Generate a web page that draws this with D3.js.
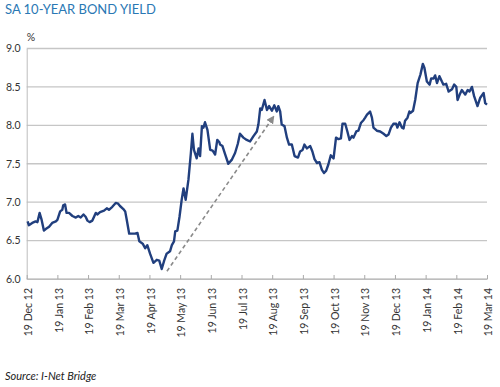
<!DOCTYPE html>
<html>
<head>
<meta charset="utf-8">
<script src="https://cdn.jsdelivr.net/npm/d3@7"></script>
<style>
  body { margin: 0; background: #fff; }
  text { font-family: Lato, "Open Sans", sans-serif; }
</style>
</head>
<body>
<div id="chart"></div>
<script>
// month labels on the category axis (one tick per month)
const tickLabels = ['19 Dec 12', '19 Jan 13', '19 Feb 13', '19 Mar 13', '19 Apr 13', '19 May 13',
  '19 Jun 13', '19 Jul 13', '19 Aug 13', '19 Sep 13', '19 Oct 13', '19 Nov 13',
  '19 Dec 13', '19 Jan 14', '19 Feb 14', '19 Mar 14'];
const yTicks = [6.0, 6.5, 7.0, 7.5, 8.0, 8.5, 9.0];

// position in months after 19 Dec 12
const months = [0.03, 0.07, 0.18, 0.29, 0.35, 0.42, 0.48, 0.56, 0.62, 0.73, 0.83, 0.95, 1.00, 1.09, 1.16, 1.19,
  1.25, 1.30, 1.38, 1.49, 1.60, 1.68, 1.76, 1.85, 1.92, 1.98, 2.05, 2.14, 2.25, 2.30, 2.39, 2.52,
  2.61, 2.68, 2.79, 2.90, 2.98, 3.04, 3.15, 3.21, 3.26, 3.34, 3.42, 3.53, 3.61, 3.67, 3.78, 3.86,
  3.93, 4.02, 4.13, 4.24, 4.32, 4.40, 4.48, 4.56, 4.67, 4.73, 4.80, 4.84, 4.91, 4.98, 5.05, 5.11,
  5.18, 5.27, 5.35, 5.40, 5.45, 5.54, 5.60, 5.65, 5.71, 5.76, 5.81, 5.89, 5.98, 6.06, 6.14, 6.21,
  6.28, 6.30, 6.38, 6.47, 6.57, 6.68, 6.79, 6.88, 6.95, 7.06, 7.17, 7.28, 7.39, 7.50, 7.55, 7.61,
  7.66, 7.75, 7.83, 7.90, 7.99, 8.07, 8.15, 8.20, 8.26, 8.31, 8.40, 8.48, 8.55, 8.64, 8.73, 8.84,
  8.91, 8.99, 9.05, 9.13, 9.24, 9.31, 9.38, 9.46, 9.54, 9.62, 9.69, 9.76, 9.83, 9.91, 10.00, 10.08,
  10.16, 10.24, 10.29, 10.38, 10.45, 10.52, 10.60, 10.65, 10.74, 10.81, 10.89, 10.98, 11.03, 11.09, 11.14, 11.19,
  11.25, 11.30, 11.41, 11.52, 11.63, 11.72, 11.79, 11.87, 11.95, 12.04, 12.08, 12.15, 12.23, 12.28, 12.33, 12.41,
  12.47, 12.50, 12.59, 12.66, 12.74, 12.83, 12.91, 12.96, 13.04, 13.13, 13.18, 13.26, 13.31, 13.37, 13.45, 13.53,
  13.58, 13.67, 13.75, 13.86, 13.93, 14.00, 14.04, 14.11, 14.18, 14.29, 14.37, 14.43, 14.51, 14.58, 14.69, 14.78,
  14.89, 14.94, 15.00];
// yield, %
const yields = [6.75, 6.70, 6.73, 6.75, 6.74, 6.86, 6.78, 6.63, 6.65, 6.68, 6.73, 6.75, 6.77, 6.88, 6.90, 6.96,
  6.97, 6.86, 6.86, 6.82, 6.80, 6.82, 6.80, 6.84, 6.81, 6.76, 6.74, 6.76, 6.86, 6.84, 6.87, 6.89,
  6.92, 6.90, 6.94, 6.99, 6.98, 6.95, 6.91, 6.88, 6.77, 6.59, 6.59, 6.59, 6.60, 6.49, 6.46, 6.40,
  6.44, 6.33, 6.21, 6.25, 6.24, 6.13, 6.24, 6.33, 6.36, 6.44, 6.49, 6.62, 6.63, 6.81, 7.03, 7.18,
  7.03, 7.29, 7.64, 7.89, 7.68, 7.57, 7.70, 7.60, 7.99, 7.97, 8.04, 7.94, 7.68, 7.67, 7.62, 7.81,
  7.78, 7.75, 7.73, 7.62, 7.50, 7.55, 7.64, 7.76, 7.89, 7.84, 7.81, 7.79, 7.86, 7.92, 8.01, 8.22,
  8.20, 8.33, 8.20, 8.25, 8.19, 8.26, 8.18, 8.25, 8.18, 8.01, 7.99, 7.84, 7.75, 7.75, 7.60, 7.58,
  7.66, 7.68, 7.75, 7.70, 7.73, 7.66, 7.56, 7.51, 7.52, 7.42, 7.38, 7.41, 7.49, 7.61, 7.57, 7.84,
  7.82, 7.83, 8.02, 8.02, 7.92, 7.81, 7.86, 7.84, 7.92, 7.93, 8.03, 8.07, 8.10, 8.14, 8.16, 8.18,
  8.10, 7.97, 7.93, 7.92, 7.89, 7.86, 7.88, 7.97, 8.02, 8.02, 7.97, 8.04, 7.97, 7.96, 8.06, 8.10,
  8.18, 8.16, 8.19, 8.33, 8.55, 8.66, 8.80, 8.75, 8.57, 8.53, 8.61, 8.61, 8.65, 8.55, 8.64, 8.57,
  8.53, 8.54, 8.44, 8.47, 8.53, 8.50, 8.33, 8.40, 8.46, 8.40, 8.46, 8.44, 8.50, 8.38, 8.25, 8.36,
  8.42, 8.29, 8.27];

// dashed trend arrow: [month, yield]
const arrowFrom = [4.57, 6.10];
const arrowTo = [8.04, 8.11];

const W = 500, H = 387;
const margin = { top: 48.5, right: 13, bottom: 108, left: 26.7 };

const svg = d3.select('#chart').append('svg')
  .attr('width', W)
  .attr('height', H);

const x = d3.scaleLinear().domain([0, tickLabels.length - 1]).range([margin.left, W - margin.right]);
const y = d3.scaleLinear().domain([6, 9]).range([H - margin.bottom, margin.top]);

// title
svg.append('text')
  .attr('x', 5).attr('y', 13.5)
  .style('font-size', '13px')
  .style('fill', '#2a78b4')
  .text('SA 10-YEAR BOND YIELD');

// gridlines
svg.append('g')
  .selectAll('line')
  .data(yTicks)
  .enter().append('line')
  .attr('x1', x(0)).attr('x2', x(15))
  .attr('y1', d => y(d)).attr('y2', d => y(d))
  .attr('stroke', '#c6c6c6')
  .attr('stroke-width', 1.3);

// y axis
const yAxis = svg.append('g')
  .attr('transform', `translate(${x(0)},0)`)
  .call(d3.axisLeft(y).tickValues(yTicks).tickFormat(d3.format('.1f')).tickSize(0).tickPadding(6));
yAxis.select('.domain').attr('stroke', '#bdbdbd');
yAxis.selectAll('text').style('font-size', '10.5px').style('fill', '#333')
  .style('font-family', 'Lato, sans-serif');

svg.append('text')
  .attr('x', x(0)).attr('y', 40.5)
  .style('font-size', '10.5px').style('fill', '#333')
  .text('%');

// x axis, ticks pointing into the plot
const xAxis = svg.append('g')
  .attr('transform', `translate(0,${y(6)})`)
  .call(d3.axisBottom(x).tickValues(d3.range(tickLabels.length))
    .tickFormat(i => tickLabels[i]).tickSizeInner(-4).tickSizeOuter(0).tickPadding(8));
xAxis.select('.domain').attr('stroke', '#bdbdbd');
xAxis.selectAll('.tick line').attr('stroke', '#aaa');
xAxis.selectAll('text')
  .style('font-size', '10.5px').style('fill', '#333')
  .style('font-family', 'Lato, sans-serif')
  .attr('text-anchor', 'end')
  .attr('dy', '0.35em')
  .attr('transform', 'rotate(-90)')
  .attr('x', -9).attr('y', 1);

// arrow
svg.append('defs').append('marker')
  .attr('id', 'head')
  .attr('viewBox', '0 0 10 10')
  .attr('refX', 8).attr('refY', 5)
  .attr('markerWidth', 5).attr('markerHeight', 5)
  .attr('orient', 'auto')
  .append('path')
  .attr('d', 'M0,0 L10,5 L0,10 z')
  .attr('fill', '#8a8a8a');

svg.append('line')
  .attr('x1', x(arrowFrom[0])).attr('y1', y(arrowFrom[1]))
  .attr('x2', x(arrowTo[0])).attr('y2', y(arrowTo[1]))
  .attr('stroke', '#8a8a8a')
  .attr('stroke-width', 1.6)
  .attr('stroke-dasharray', '4,3')
  .attr('marker-end', 'url(#head)');

// yield line
const line = d3.line()
  .x((d, i) => x(months[i]))
  .y(d => y(d));

svg.append('path')
  .datum(yields)
  .attr('d', line)
  .attr('fill', 'none')
  .attr('stroke', '#213f7e')
  .attr('stroke-width', 2.4)
  .attr('stroke-linejoin', 'round');

// source
svg.append('text')
  .attr('x', 5).attr('y', 380)
  .style('font-size', '11px')
  .style('font-style', 'italic')
  .style('fill', '#222')
  .text('Source: I-Net Bridge');
</script>
</body>
</html>
